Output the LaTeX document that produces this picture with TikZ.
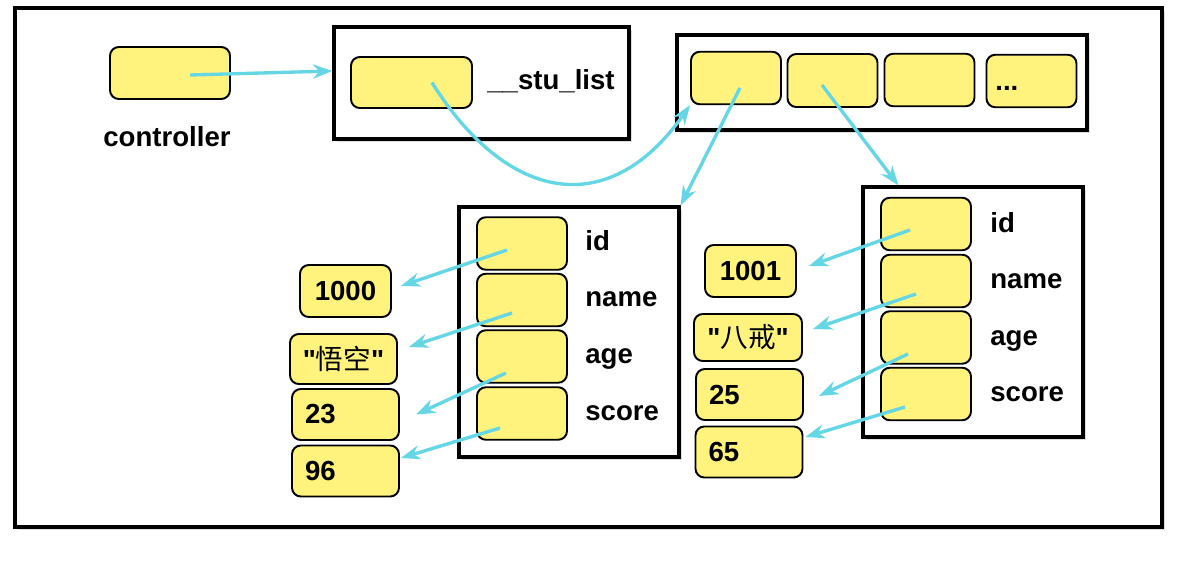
\documentclass[tikz,border=0pt]{standalone}
\usepackage{fontspec}
\setmainfont{Liberation Sans}
\newfontfamily\cjk{Noto Sans CJK SC}
\usetikzlibrary{arrows.meta,shadows}

\definecolor{boxyellow}{RGB}{255,243,125}
\definecolor{linkcyan}{RGB}{100,214,228}

\tikzstyle{frame} = [rectangle, draw=black, line width=1.8pt, fill=white, drop shadow={shadow xshift=1.5pt,shadow yshift=-1.5pt,opacity=0.25}]
\tikzstyle{cell} = [rectangle, rounded corners=5pt, draw=black, line width=1.1pt, fill=boxyellow, minimum width=1.8cm, minimum height=1.05cm, inner sep=0pt]
\tikzstyle{lcell} = [cell, minimum width=2.14cm, minimum height=1.02cm, text width=1.62cm, align=left]
\tikzstyle{field} = [anchor=base west, inner sep=0pt]
\tikzstyle{arrow} = [line width=1.9pt, linkcyan, -{Stealth[length=11pt,width=8pt]}]

\begin{document}
\begin{tikzpicture}[font=\fontsize{15.7}{18}\selectfont\bfseries]
\useasboundingbox (0,0) rectangle (23.54,-11.4);

\node (outer) [frame, minimum width=22.94cm, minimum height=10.38cm] at (11.77,-5.35) {};
\node (stubox) [frame, minimum width=5.9cm, minimum height=2.24cm] at (9.63,-1.66) {};
\node (lst) [frame, minimum width=8.2cm, minimum height=1.9cm] at (17.64,-1.65) {};
\node (lstu) [frame, minimum width=4.4cm, minimum height=5cm] at (11.38,-6.64) {};
\node (rstu) [frame, minimum width=4.4cm, minimum height=5cm] at (19.46,-6.24) {};

\node (ctrl) [cell, minimum width=2.4cm, minimum height=1.04cm] at (3.4,-1.46) {};
\node (ctrllabel) [anchor=base, inner sep=0pt] at (3.34,-2.92) {controller};
\node (stucell) [cell, minimum width=2.42cm, minimum height=1.02cm] at (8.23,-1.65) {};
\node (stulabel) [field] at (9.74,-1.78) {\_\_stu\_list};

\node (c1) [cell] at (14.72,-1.56) {};
\node (c2) [cell, minimum height=1.06cm] at (16.65,-1.61) {};
\node (c3) [cell] at (18.59,-1.6) {};
\node (c4) [cell] at (20.63,-1.62) {};
\node (c4t) [field] at (19.9,-1.8) {...};

\node (lid) [cell] at (10.44,-4.87) {};
\node (lname) [cell] at (10.44,-6.0) {};
\node (lage) [cell] at (10.44,-7.13) {};
\node (lscore) [cell] at (10.44,-8.27) {};
\node (lidt) [field] at (11.7,-5.0) {id};
\node (lnamet) [field] at (11.7,-6.12) {name};
\node (laget) [field] at (11.7,-7.26) {age};
\node (lscoret) [field] at (11.7,-8.4) {score};

\node (rid) [cell] at (18.52,-4.48) {};
\node (rname) [cell] at (18.52,-5.62) {};
\node (rage) [cell] at (18.52,-6.75) {};
\node (rscore) [cell] at (18.52,-7.88) {};
\node (ridt) [field] at (19.8,-4.64) {id};
\node (rnamet) [field] at (19.8,-5.76) {name};
\node (raget) [field] at (19.8,-6.9) {age};
\node (rscoret) [field] at (19.8,-8.02) {score};

\node (v1000) [cell, minimum width=1.82cm, minimum height=1.04cm] at (6.91,-5.82) {1000};
\node (vwk) [cell, minimum width=2.14cm, minimum height=1cm] at (6.87,-7.18) {\textquotedbl{\mdseries\cjk 悟空}\textquotedbl};
\node (v23) [lcell] at (6.91,-8.29) {23};
\node (v96) [lcell] at (6.91,-9.42) {96};

\node (v1001) [cell, minimum width=1.82cm, minimum height=1.04cm] at (15.01,-5.42) {1001};
\node (vbj) [cell, minimum width=2.16cm, minimum height=0.94cm] at (14.96,-6.75) {\textquotedbl{\mdseries\cjk 八戒}\textquotedbl};
\node (v25) [lcell] at (14.99,-7.89) {25};
\node (v65) [lcell] at (14.98,-9.04) {65};

\draw [arrow] ([shift={(0.4,-0.04)}]ctrl.center) -- ([yshift=0.24cm]stubox.west);
\draw [arrow] ([xshift=0.41cm]stucell.center) to [out=-58,in=-125,looseness=1.4] (c1.south west);
\draw [arrow] ([shift={(0.08,-0.2)}]c1.center) -- (lstu.north east);
\draw [arrow] ([shift={(-0.21,-0.09)}]c2.center) -- ([xshift=0.74cm]rstu.north west);

\draw [arrow] ([shift={(-0.3,-0.13)}]lid.center) -- ([shift={(0.18,0.1)}]v1000.east);
\draw [arrow] ([shift={(-0.2,-0.26)}]lname.center) -- ([shift={(0.22,0.24)}]vwk.east);
\draw [arrow] ([shift={(-0.32,-0.33)}]lage.center) -- ([xshift=0.32cm]v23.east);
\draw [arrow] ([shift={(-0.44,-0.29)}]lscore.center) -- ([shift={(0.02,0.26)}]v96.east);

\draw [arrow] ([shift={(-0.32,-0.12)}]rid.center) -- ([shift={(0.24,0.1)}]v1001.east);
\draw [arrow] ([shift={(-0.2,-0.26)}]rname.center) -- ([shift={(0.2,0.17)}]vbj.east);
\draw [arrow] ([shift={(-0.36,-0.33)}]rage.center) -- ([shift={(0.3,-0.03)}]v25.east);
\draw [arrow] ([shift={(-0.42,-0.26)}]rscore.center) -- ([shift={(0.04,0.3)}]v65.east);
\end{tikzpicture}
\end{document}
